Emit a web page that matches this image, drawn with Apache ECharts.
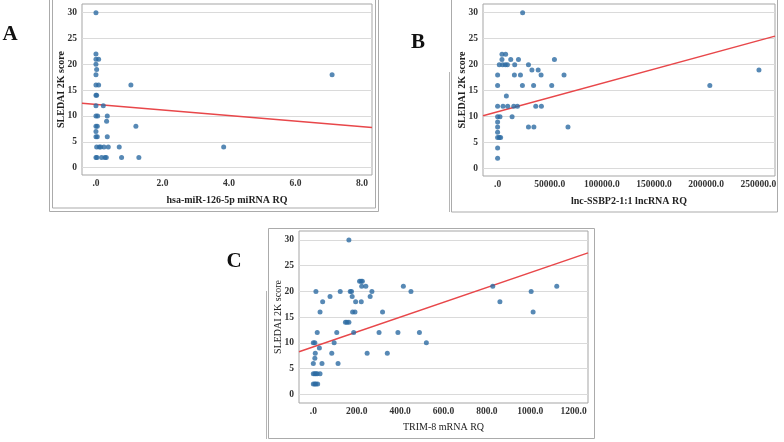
<!DOCTYPE html>
<html>
<head>
<meta charset="utf-8">
<title>SLEDAI 2K score</title>
<script src="https://cdn.jsdelivr.net/npm/echarts@6/dist/echarts.min.js"></script>
<style>
    html, body { margin: 0; padding: 0; background: #fff; }
    #main { width: 784px; height: 442px; }
</style>
</head>
<body>
<div id="main"></div>
<script>
    // ---- data ----
    var yTicks = [0, 5, 10, 15, 20, 25, 30];

    // A: hsa-miR-126-5p miRNA RQ vs SLEDAI
    var xTicksA = [0, 2, 4, 6, 8];
    var pointsA = [
        [0, 30], [0, 22], [0, 21], [0.08, 21], [0, 20], [0.02, 19], [0, 18],
        [0, 16], [0.08, 16], [0, 14], [0.02, 14], [0, 12], [0.22, 12],
        [0, 10], [0.05, 10], [0, 8], [0.04, 8], [0, 7], [0, 6], [0.04, 6],
        [0.34, 6], [0.34, 10], [0.32, 9],
        [0.02, 4], [0.1, 4], [0.14, 4], [0.24, 4], [0.37, 4], [0.7, 4],
        [0, 2], [0.03, 2], [0.17, 2], [0.27, 2], [0.31, 2], [0.77, 2], [1.29, 2],
        [1.05, 16], [1.2, 8], [3.84, 4], [7.1, 18]
    ];
    var fitA = [[-0.42, 12.46], [8.3, 7.8]];

    // B: lnc-SSBP2-1:1 lncRNA RQ vs SLEDAI
    var xTicksB = [0, 50000, 100000, 150000, 200000, 250000];
    var pointsB = [
        [24000, 30], [4200, 22], [7700, 22], [4200, 21], [12600, 21], [20000, 21],
        [54500, 21], [1600, 20], [4800, 20], [7400, 20], [9400, 20], [16400, 20],
        [29600, 20], [0, 18], [16100, 18], [21900, 18], [41700, 18], [63700, 18],
        [32900, 19], [38900, 19], [0, 16], [23800, 16], [34500, 16], [51900, 16],
        [8400, 14], [0, 12], [5200, 12], [9700, 12], [15500, 12], [19000, 12],
        [36600, 12], [42000, 12], [0, 10], [2300, 10], [13900, 10],
        [29600, 8], [34800, 8], [67500, 8], [0, 9], [0, 8], [0, 7], [0, 6],
        [1600, 6], [2900, 6], [0, 4], [0, 2], [203500, 16], [250600, 19]
    ];
    var fitB = [[-14000, 10.2], [266000, 25.5]];

    // C: TRIM-8 mRNA RQ vs SLEDAI
    var xTicksC = [0, 200, 400, 600, 800, 1000, 1200];
    var pointsC = [
        [164, 30], [213, 22], [220, 22], [226, 22], [223, 21], [242, 21], [415, 21],
        [827, 21], [1122, 21], [12, 20], [124, 20], [170, 20], [176, 20], [270, 20],
        [450, 20], [1004, 20], [77, 19], [179, 19], [262, 19], [43, 18], [195, 18],
        [221, 18], [860, 18], [31, 16], [181, 16], [192, 16], [319, 16], [1013, 16],
        [148, 14], [155, 14], [164, 14], [18, 12], [108, 12], [186, 12], [303, 12],
        [390, 12], [489, 12], [0, 10], [7, 10], [96, 10], [521, 10], [28, 9],
        [9, 8], [85, 8], [248, 8], [341, 8], [7, 7], [0, 6], [40, 6], [114, 6],
        [0, 4], [7, 4], [12, 4], [18, 4], [31, 4], [0, 2], [7, 2], [12, 2], [20, 2]
    ];
    var fitC = [[-66, 8.28], [1266, 27.5]];

    var serif = '"Liberation Serif", "DejaVu Serif", serif';
    var dotColor = '#2d6ca3';
    var lineColor = '#e8474a';

    function fmt(v) {
        return v === 0 ? '.0' : v.toFixed(1);
    }

    function makeX(idx, min, max, ticks, name, gap, weight) {
        return {
            type: 'value', gridIndex: idx, min: min, max: max,
            name: name, nameLocation: 'middle', nameGap: gap, nameMoveOverlap: false,
            nameTextStyle: { fontFamily: serif, fontSize: 10, fontWeight: weight, color: '#222' },
            axisLine: { show: false },
            axisTick: { show: false, customValues: ticks },
            axisLabel: {
                customValues: ticks, formatter: fmt, margin: 4,
                fontFamily: serif, fontSize: 9.5, fontWeight: 'bold', color: '#333'
            },
            splitLine: { show: false }
        };
    }

    function makeY(idx, min, max, gap, weight) {
        return {
            type: 'value', gridIndex: idx, min: min, max: max,
            name: 'SLEDAI 2K score', nameLocation: 'middle', nameGap: gap, nameMoveOverlap: false,
            nameTextStyle: { fontFamily: serif, fontSize: 10, fontWeight: weight, color: '#222' },
            axisLine: { show: false },
            axisTick: { show: false, customValues: yTicks },
            axisLabel: {
                customValues: yTicks, margin: 5,
                fontFamily: serif, fontSize: 9.5, fontWeight: 'bold', color: '#333'
            },
            splitLine: { show: true, lineStyle: { color: '#dadada', width: 1 } }
        };
    }

    function dots(idx, data) {
        return {
            type: 'scatter', xAxisIndex: idx, yAxisIndex: idx, data: data,
            symbolSize: 5, itemStyle: { color: dotColor }, z: 3
        };
    }

    function fit(idx, data) {
        return {
            type: 'line', xAxisIndex: idx, yAxisIndex: idx, data: data,
            symbol: 'none', lineStyle: { color: lineColor, width: 1.5 }, z: 2
        };
    }

    function frame(x, y, w, h) {
        return {
            type: 'rect', shape: { x: x, y: y, width: w, height: h },
            style: { fill: 'none', stroke: '#ababab', lineWidth: 1 }, silent: true
        };
    }

    function edge(x, y1, y2) {
        return {
            type: 'line', shape: { x1: x, y1: y1, x2: x, y2: y2 },
            style: { stroke: '#b5b5b5', lineWidth: 1 }, silent: true
        };
    }

    function letter(t, x, y) {
        return {
            type: 'text', x: x, y: y,
            style: { text: t, font: 'bold 21px ' + serif, fill: '#111', align: 'center', verticalAlign: 'middle' }
        };
    }

    var chart = echarts.init(document.getElementById('main'));
    chart.setOption({
        animation: false,
        backgroundColor: '#fff',
        grid: [
            { left: 82, top: 4, width: 290, height: 171, show: true, borderColor: '#a5a5a5', borderWidth: 1 },
            { left: 483, top: 4, width: 292, height: 172, show: true, borderColor: '#a5a5a5', borderWidth: 1 },
            { left: 299, top: 231, width: 289, height: 172, show: true, borderColor: '#a5a5a5', borderWidth: 1 }
        ],
        xAxis: [
            makeX(0, -0.42, 8.3, xTicksA, 'hsa-miR-126-5p miRNA RQ', 20, 'bold'),
            makeX(1, -14000, 266000, xTicksB, 'lnc-SSBP2-1:1 lncRNA RQ', 20, 'bold'),
            makeX(2, -66, 1266, xTicksC, 'TRIM-8 mRNA RQ', 19, 'normal')
        ],
        yAxis: [
            makeY(0, -1.41, 31.68, 16, 'bold'),
            makeY(1, -1.41, 31.68, 16, 'bold'),
            makeY(2, -1.69, 31.75, 16, 'normal')
        ],
        series: [
            fit(0, fitA), dots(0, pointsA),
            fit(1, fitB), dots(1, pointsB),
            fit(2, fitC), dots(2, pointsC)
        ],
        graphic: [
            frame(49.5, -4, 329, 215.5),
            frame(52.5, -7, 323, 215),
            frame(451.5, -4, 326, 216),
            edge(449.5, 72, 212),
            frame(268.5, 228.5, 326, 210),
            edge(266.5, 291, 439),
            letter('A', 10, 35),
            letter('B', 418, 43),
            letter('C', 234, 262)
        ]
    });
</script>
</body>
</html>
